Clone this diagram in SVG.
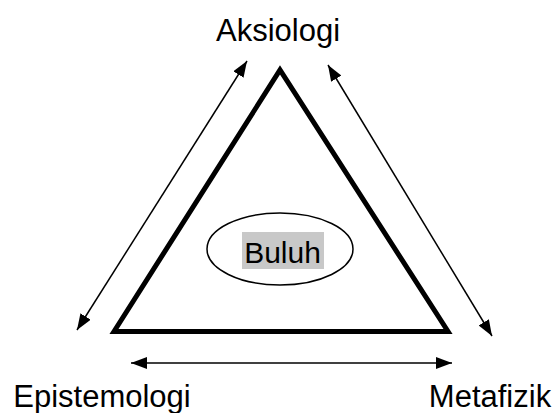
<svg xmlns="http://www.w3.org/2000/svg" width="555" height="413" viewBox="0 0 555 413">
<style>
.lbl{font-family:"Liberation Sans",Arial,sans-serif;font-size:31px;fill:#000}
.arr{stroke:#000;stroke-width:1.5;fill:none;marker-start:url(#ah);marker-end:url(#ah)}
</style>
<defs>
<marker id="ah" viewBox="0 0 16 12" refX="16" refY="6" markerWidth="16" markerHeight="12" markerUnits="userSpaceOnUse" orient="auto-start-reverse">
<path d="M0,0 L16,6 L0,12 z" fill="#000"/>
</marker>
</defs>
<rect width="555" height="413" fill="#fff"/>
<g id="triangle">
<path d="M114,331.5 L280,70 L448,331.5 Z" fill="none" stroke="#000" stroke-width="5" stroke-linejoin="miter"/>
</g>
<g id="connectors">
<line class="arr" x1="77" y1="330" x2="247" y2="61"/>
<line class="arr" x1="328" y1="65" x2="492" y2="336"/>
<line class="arr" x1="131" y1="363" x2="452" y2="363"/>
</g>
<g id="aksiologi"><text class="lbl" x="278" y="41" text-anchor="middle">Aksiologi</text></g>
<g id="epistemologi"><text class="lbl" x="102" y="407" text-anchor="middle">Epistemologi</text></g>
<g id="metafizik"><text class="lbl" x="490" y="407" text-anchor="middle">Metafizik</text></g>
<g id="buluh">
<ellipse cx="280" cy="249" rx="73" ry="36" fill="#fff" stroke="#000" stroke-width="1.5"/>
<rect x="242" y="232" width="82" height="37" fill="#c8c8c8"/>
<text x="282.5" y="263" text-anchor="middle" font-family="'Liberation Sans',Arial,sans-serif" font-size="30">Buluh</text>
</g>
</svg>
